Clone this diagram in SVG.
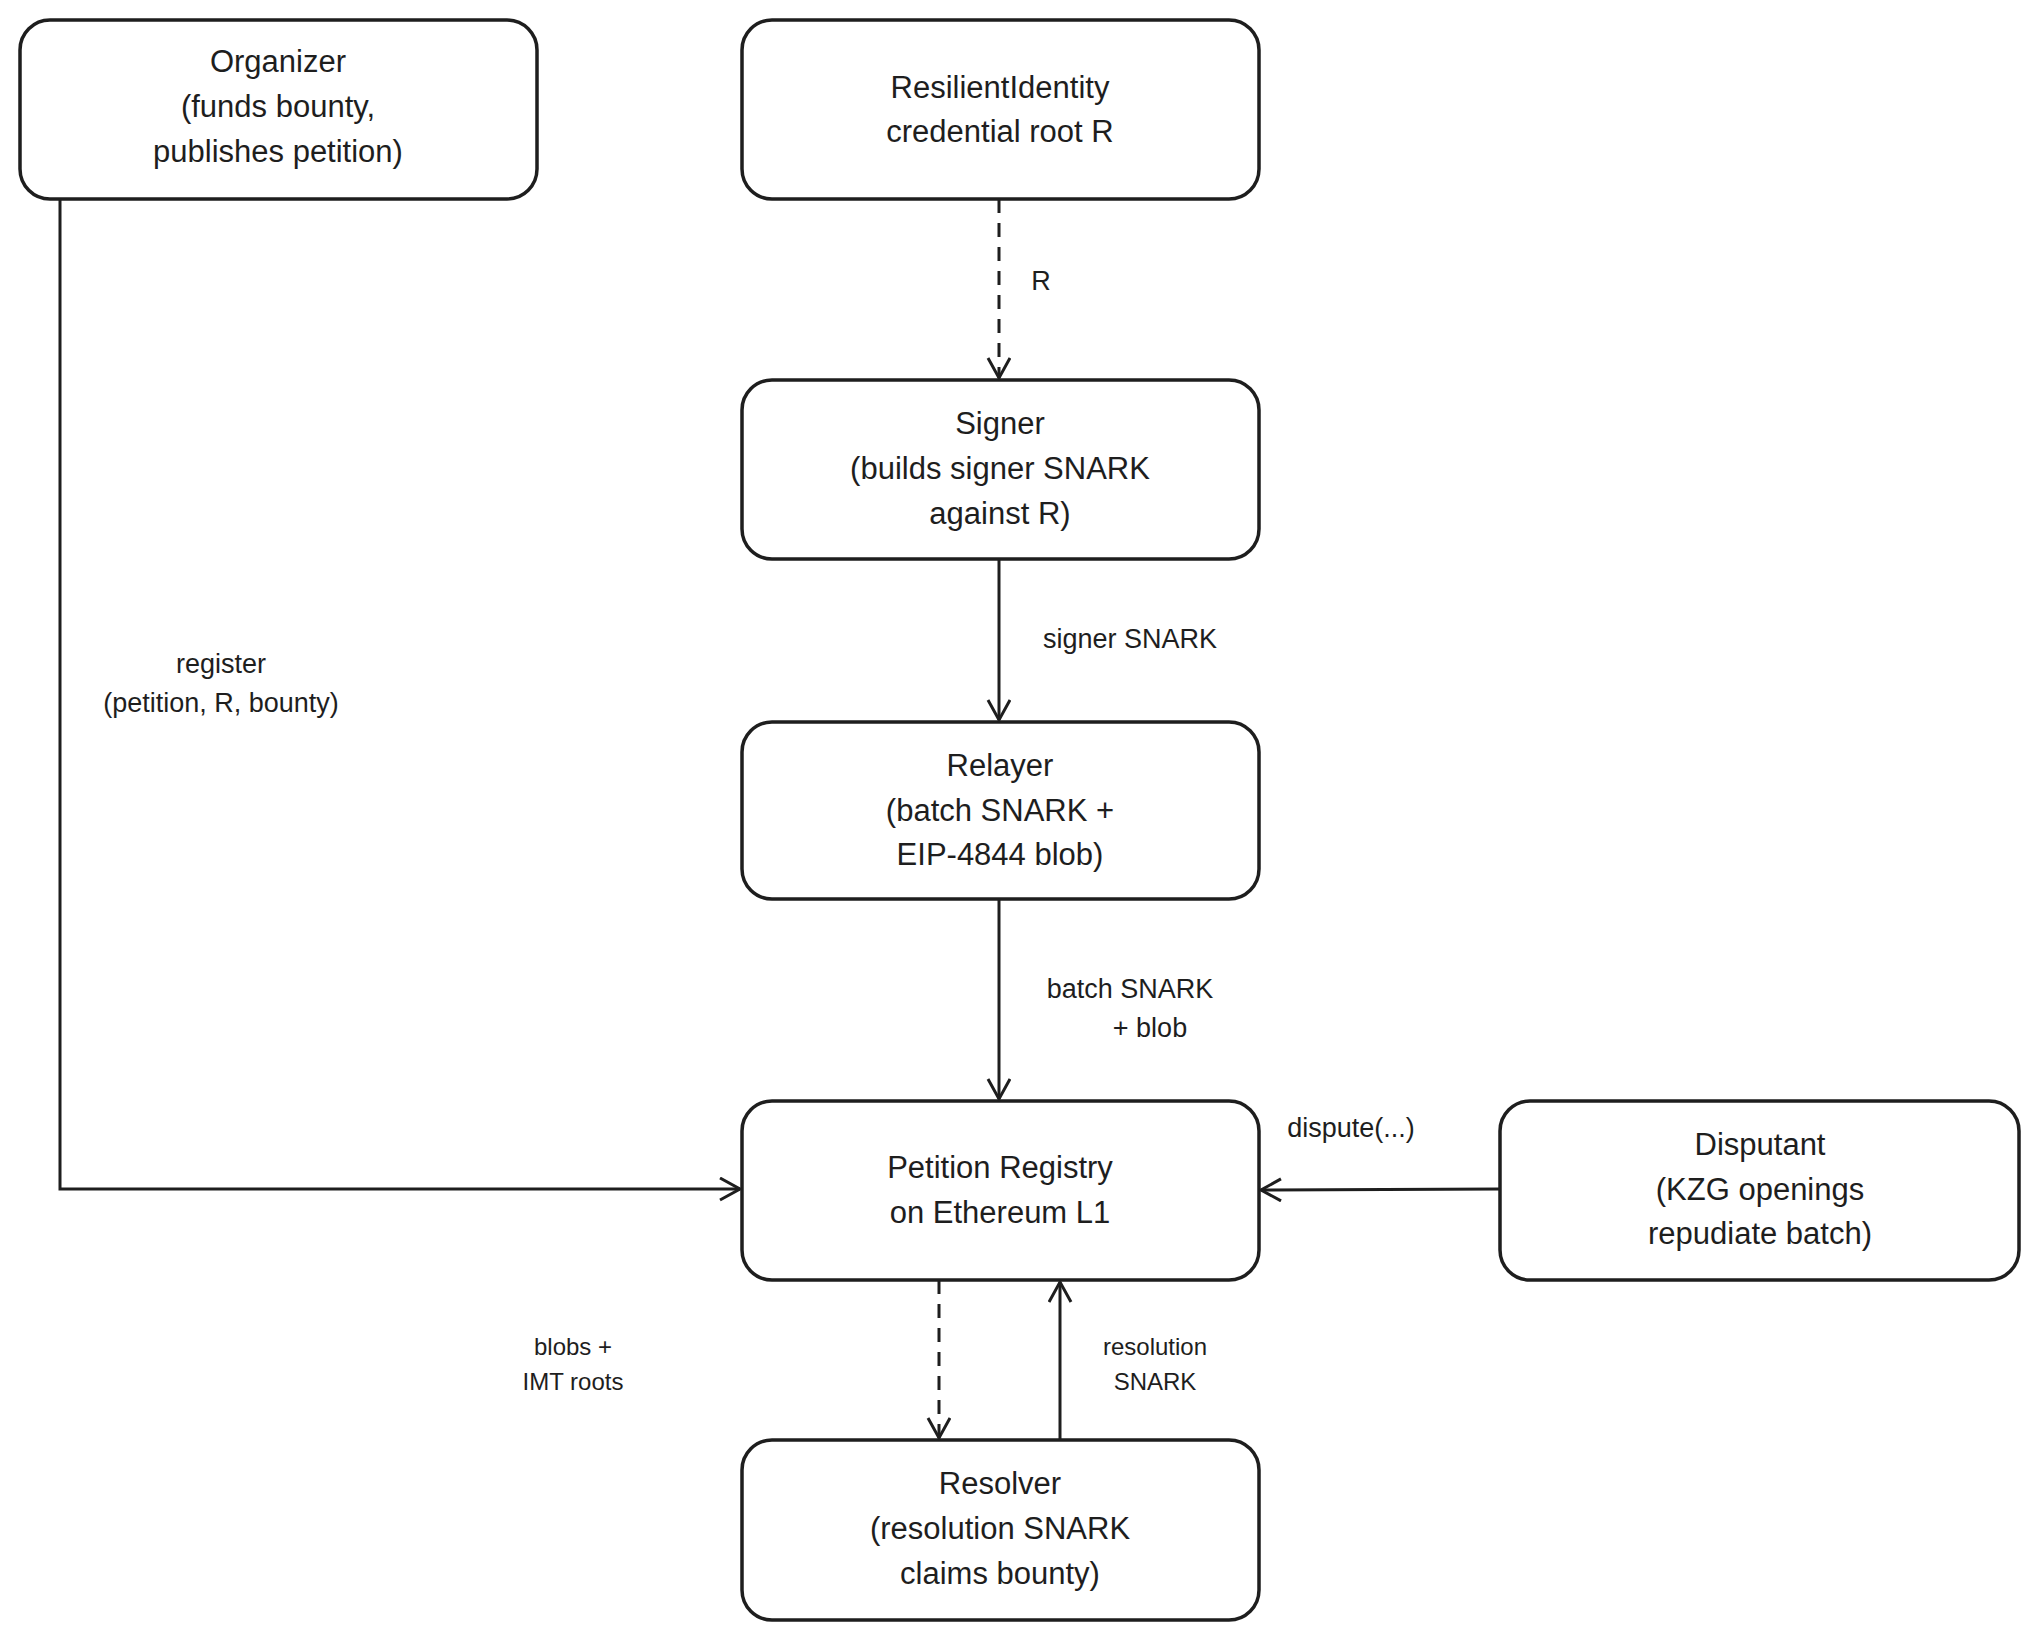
<svg xmlns="http://www.w3.org/2000/svg" width="2040" height="1640" viewBox="0 0 2040 1640">
<style>
.n{fill:#fff;stroke:#1e1e1e;stroke-width:3.5}
.t{font-family:"Liberation Sans",sans-serif;font-size:31px;fill:#1e1e1e;text-anchor:middle}
.l{font-family:"Liberation Sans",sans-serif;font-size:27px;fill:#1e1e1e;text-anchor:middle}
.s{font-size:24px}
.c{fill:none;stroke:#1e1e1e;stroke-width:3}
.d{stroke-dasharray:14 10}
</style>
<defs><marker id="a" markerWidth="30" markerHeight="30" refX="22" refY="12" orient="auto" markerUnits="userSpaceOnUse"><path d="M2 1 L22 12 L2 23" fill="none" stroke="#1e1e1e" stroke-width="3"/></marker></defs>
<rect width="2040" height="1640" fill="#fff"/>
<g id="organizer"><rect class="n" x="20" y="20" width="517" height="179" rx="30"/><text class="t" x="278" y="72">Organizer</text><text class="t" x="278" y="117">(funds bounty,</text><text class="t" x="278" y="162">publishes petition)</text></g>
<g id="identity"><rect class="n" x="742" y="20" width="517" height="179" rx="30"/><text class="t" x="1000" y="98">ResilientIdentity</text><text class="t" x="1000" y="142">credential root R</text></g>
<g id="signer"><rect class="n" x="742" y="380" width="517" height="179" rx="30"/><text class="t" x="1000" y="434">Signer</text><text class="t" x="1000" y="479">(builds signer SNARK</text><text class="t" x="1000" y="524">against R)</text></g>
<g id="relayer"><rect class="n" x="742" y="722" width="517" height="177" rx="30"/><text class="t" x="1000" y="776">Relayer</text><text class="t" x="1000" y="821">(batch SNARK +</text><text class="t" x="1000" y="865">EIP-4844 blob)</text></g>
<g id="registry"><rect class="n" x="742" y="1101" width="517" height="179" rx="30"/><text class="t" x="1000" y="1178">Petition Registry</text><text class="t" x="1000" y="1223">on Ethereum L1</text></g>
<g id="disputant"><rect class="n" x="1500" y="1101" width="519" height="179" rx="30"/><text class="t" x="1760" y="1155">Disputant</text><text class="t" x="1760" y="1200">(KZG openings</text><text class="t" x="1760" y="1244">repudiate batch)</text></g>
<g id="resolver"><rect class="n" x="742" y="1440" width="517" height="180" rx="30"/><text class="t" x="1000" y="1494">Resolver</text><text class="t" x="1000" y="1539">(resolution SNARK</text><text class="t" x="1000" y="1584">claims bounty)</text></g>
<g id="connectors">
<path class="c d" d="M999 199 L999 378" marker-end="url(#a)"/>
<text class="l" x="1041" y="290">R</text>
<path class="c" d="M999 559 L999 720" marker-end="url(#a)"/>
<text class="l" x="1130" y="648">signer SNARK</text>
<path class="c" d="M999 899 L999 1099" marker-end="url(#a)"/>
<text class="l" x="1130" y="998">batch SNARK</text><text class="l" x="1150" y="1037">+ blob</text>
<path class="c" d="M60 199 L60 1189 L740 1189" marker-end="url(#a)"/>
<text class="l" x="221" y="673">register</text><text class="l" x="221" y="712">(petition, R, bounty)</text>
<path class="c" d="M1500 1189 L1261 1190" marker-end="url(#a)"/>
<text class="l" x="1351" y="1137">dispute(...)</text>
<path class="c d" d="M939 1280 L939 1438" marker-end="url(#a)"/>
<text class="l s" x="573" y="1355">blobs +</text><text class="l s" x="573" y="1390">IMT roots</text>
<path class="c" d="M1060 1440 L1060 1282" marker-end="url(#a)"/>
<text class="l s" x="1155" y="1355">resolution</text><text class="l s" x="1155" y="1390">SNARK</text>
</g>
</svg>
